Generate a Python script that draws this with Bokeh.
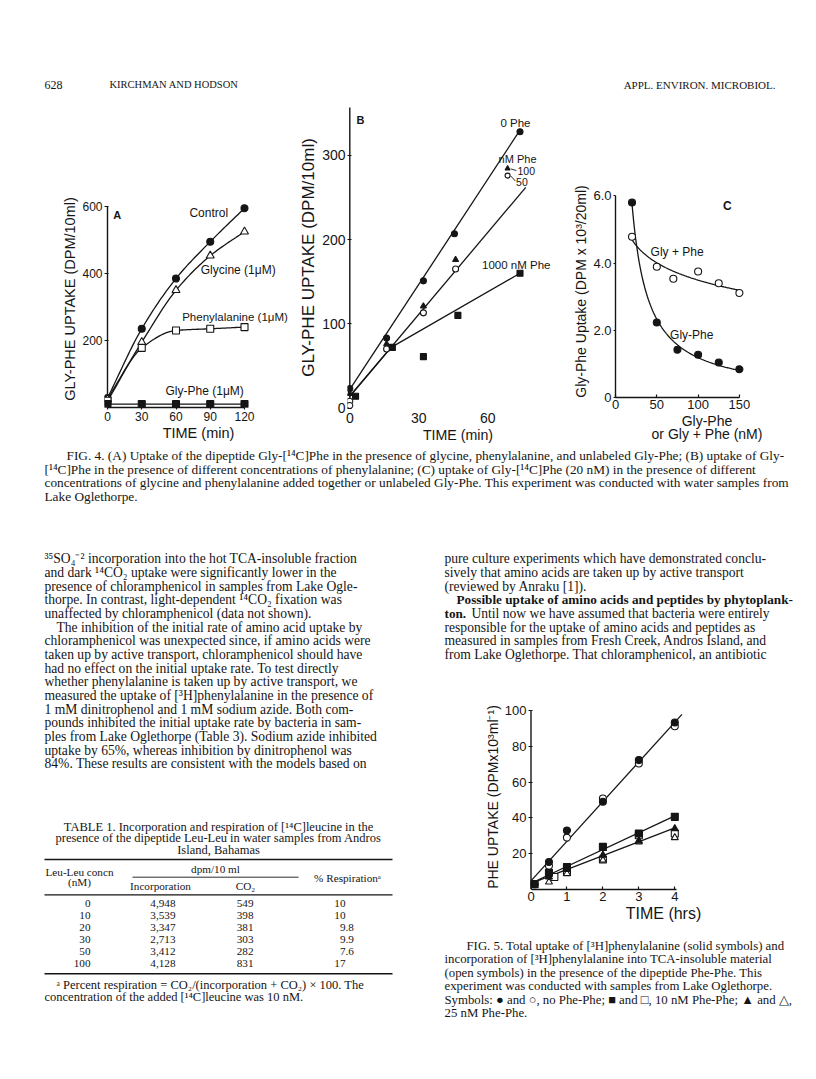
import glob
import numpy as np
from bokeh.plotting import figure
from bokeh.models import Range1d, FixedTicker
from bokeh.layouts import column, row
from bokeh.embed import file_html
from bokeh.resources import INLINE
from bokeh.core.properties import value

SANS = "Liberation Sans"
SERIF = "Liberation Serif"
INK = "#151515"

# ======================= DATA =======================
# Fig. 4A  Gly-[14C]Phe uptake (DPM/10 ml) vs time (min)
a_time = [0, 30, 60, 90, 120]
a_control = [28, 235, 385, 495, 595]
a_glycine = [25, 195, 350, 453, 525]
a_phenylalanine = [20, 178, 230, 235, 240]
a_glyphe = [10, 10, 10, 10, 10]

# Fig. 4B  uptake vs time at several Phe concentrations
b_time_0 = [0, 16, 32, 45.5, 74]
b_phe_0 = [23, 83, 151, 207, 328]
b_time_100 = [0, 16, 32, 46]
b_phe_100 = [17, 76, 121, 176]
b_time_50 = [0, 0, 16, 32, 46]
b_phe_50 = [8, 3, 70, 113, 165]
b_time_1000 = [2.5, 18.5, 32, 47, 74]
b_phe_1000 = [14, 72, 61, 110, 160]
# lines drawn by the authors in Fig. 4B
b_line_time_0 = [0, 74]
b_line_0 = [22, 330]
b_line_time_100_50 = [0, 76.5]
b_line_100_50 = [14, 262]
b_line_time_1000 = [0, 18, 74]
b_line_1000 = [14, 72, 160]

# Fig. 4C  uptake (DPM x 10^3 / 20 ml) vs concentration (nM)
c_conc_glyphe = [20, 50, 75, 100, 125, 150]
c_glyphe = [5.80, 2.23, 1.42, 1.27, 1.04, 0.84]
c_conc_glyplusphe = [20, 50, 70, 100, 125, 150]
c_glyplusphe = [4.78, 3.89, 3.53, 3.75, 3.40, 3.11]

# Fig. 5  Phe uptake (DPM x 10^3 / ml) vs time (h)
f5_time = [0.1, 0.5, 1, 2, 3, 4]
f5_solid_none = [3, 15.4, 33, 49, 72.3, 93.3]
f5_solid_10 = [3, 9.3, 12.6, 23.8, 31.3, 40.6]
f5_time_open = [0.5, 1, 2, 3, 4]
f5_open_none = [13.2, 29, 50.8, 70.4, 91.2]
f5_time_open_10 = [0.65, 1, 2, 3, 4]
f5_open_10 = [7, 9.8, 16.8, 30.3, 31.3]
f5_time_25 = [0.5, 1, 2, 3, 4]
f5_solid_25 = [7, 11.2, 19.2, 27.2, 34]
f5_open_25 = [4.2, 8.9, 16.4, 26.6, 29]

# Table 1
t1_leuleu_nM = [0, 10, 20, 30, 50, 100]
t1_incorporation = [4948, 3539, 3347, 2713, 3412, 4128]
t1_co2 = [549, 398, 381, 303, 282, 831]
t1_respiration = [10, 10, 9.8, 9.9, 7.6, 17]

# ======================= TEXT =======================
header_left = ["628", "KIRCHMAN AND HODSON"]
header_right = "APPL. ENVIRON. MICROBIOL."

fig4_caption = [
    "FIG. 4. (A) Uptake of the dipeptide Gly-[¹⁴C]Phe in the presence of glycine, phenylalanine, and unlabeled Gly-Phe; (B) uptake of Gly-",
    "[¹⁴C]Phe in the presence of different concentrations of phenylalanine; (C) uptake of Gly-[¹⁴C]Phe (20 nM) in the presence of different",
    "concentrations of glycine and phenylalanine added together or unlabeled Gly-Phe. This experiment was conducted with water samples from",
    "Lake Oglethorpe.",
]

left_text = [
    "³⁵SO₄⁻² incorporation into the hot TCA-insoluble fraction",
    "and dark ¹⁴CO₂ uptake were significantly lower in the",
    "presence of chloramphenicol in samples from Lake Ogle-",
    "thorpe. In contrast, light-dependent ¹⁴CO₂ fixation was",
    "unaffected by chloramphenicol (data not shown).",
    "The inhibition of the initial rate of amino acid uptake by",
    "chloramphenicol was unexpected since, if amino acids were",
    "taken up by active transport, chloramphenicol should have",
    "had no effect on the initial uptake rate. To test directly",
    "whether phenylalanine is taken up by active transport, we",
    "measured the uptake of [³H]phenylalanine in the presence of",
    "1 mM dinitrophenol and 1 mM sodium azide. Both com-",
    "pounds inhibited the initial uptake rate by bacteria in sam-",
    "ples from Lake Oglethorpe (Table 3). Sodium azide inhibited",
    "uptake by 65%, whereas inhibition by dinitrophenol was",
    "84%. These results are consistent with the models based on",
]
left_indent = [0, 0, 0, 0, 0, 1, 0, 0, 0, 0, 0, 0, 0, 0, 0, 0]

right_text = [
    "pure culture experiments which have demonstrated conclu-",
    "sively that amino acids are taken up by active transport",
    "(reviewed by Anraku [1]).",
    None,
    None,
    "responsible for the uptake of amino acids and peptides as",
    "measured in samples from Fresh Creek, Andros Island, and",
    "from Lake Oglethorpe. That chloramphenicol, an antibiotic",
]
right_bold_1 = "Possible uptake of amino acids and peptides by phytoplank-"
right_bold_2 = "ton."
right_rest_2 = "Until now we have assumed that bacteria were entirely"

table_title = [
    "TABLE 1. Incorporation and respiration of [¹⁴C]leucine in the",
    "presence of the dipeptide Leu-Leu in water samples from Andros",
    "Island, Bahamas",
]
table_foot = [
    "ᵃ Percent respiration = CO₂/(incorporation + CO₂) × 100. The",
    "concentration of the added [¹⁴C]leucine was 10 nM.",
]

fig5_caption = [
    "FIG. 5. Total uptake of [³H]phenylalanine (solid symbols) and",
    "incorporation of [³H]phenylalanine into TCA-insoluble material",
    "(open symbols) in the presence of the dipeptide Phe-Phe. This",
    "experiment was conducted with samples from Lake Oglethorpe.",
    "Symbols: ● and ○, no Phe-Phe; ■ and □, 10 nM Phe-Phe; ▲ and △,",
    "25 nM Phe-Phe.",
]

# ======================= LAYOUT CONSTANTS (page px) =======================
L0, L1 = 44, 392      # left text column
R0, R1 = 444, 793     # right text column
BODY_PX = 13.6
LINE_DY = 13.67
W, H = 800, 1063


def _font_path(bold):
    name = "LiberationSerif-Bold.ttf" if bold else "LiberationSerif-Regular.ttf"
    for pat in ("/usr/share/fonts/**/" + name, "/usr/local/share/fonts/**/" + name):
        hits = glob.glob(pat, recursive=True)
        if hits:
            return hits[0]
    return None


def text_width(s, px, bold=False):
    try:
        from PIL import ImageFont
        f = ImageFont.truetype(_font_path(bold), 100)
        return f.getlength(s) * px / 100.0
    except Exception:
        return 0.47 * px * len(s)


def no_align(p):
    try:
        p.frame_align = False
    except Exception:
        pass
    return p


def page_fig(x0, y0, x1, y1):
    p = figure(width=x1 - x0, height=y1 - y0,
               x_range=Range1d(x0, x1), y_range=Range1d(y1, y0),
               x_axis_type=None, y_axis_type=None,
               toolbar_location=None, output_backend="svg",
               min_border=0, outline_line_color=None)
    return no_align(p)


def put(p, xs, ys, texts, px, font=SERIF, align="left", style="normal", baseline="middle"):
    p.text(x=list(xs), y=list(ys), text=list(texts), text_font=value(font),
           text_font_size=f"{px}px", text_align=align, text_baseline=baseline,
           text_font_style=style, text_color=INK)


def make_chart(box, frame, x_map, y_map):
    bx0, by0, bx1, by1 = box
    fl, ft, fr, fb = frame
    p = figure(width=bx1 - bx0, height=by1 - by0,
               x_range=Range1d((fl - x_map[0]) / x_map[1], (fr - x_map[0]) / x_map[1]),
               y_range=Range1d((y_map[0] - fb) / y_map[1], (y_map[0] - ft) / y_map[1]),
               toolbar_location=None, output_backend="svg",
               min_border_left=fl - bx0, min_border_right=bx1 - fr,
               min_border_top=ft - by0, min_border_bottom=by1 - fb)
    p.outline_line_color = None
    p.xgrid.visible = False
    p.ygrid.visible = False
    return no_align(p)


def style_axis(ax, ticks, tick_px, label, label_px, tick_in=0, tick_out=3, line=True,
               overrides=None, bounds=None):
    ax.ticker = FixedTicker(ticks=ticks)
    ax.minor_tick_line_color = None
    ax.major_tick_in = tick_in
    ax.major_tick_out = tick_out
    ax.major_tick_line_color = INK if (tick_in or tick_out) else None
    ax.major_tick_line_width = 1.2
    ax.axis_line_color = INK if line else None
    ax.axis_line_width = 1.4
    ax.major_label_text_font = SANS
    ax.major_label_text_font_size = f"{tick_px}px"
    ax.major_label_text_color = INK
    ax.major_label_standoff = 2
    ax.axis_label = label
    ax.axis_label_text_font = SANS
    ax.axis_label_text_font_size = f"{label_px}px"
    ax.axis_label_text_font_style = "normal"
    ax.axis_label_text_color = INK
    ax.axis_label_standoff = 1
    if overrides:
        ax.major_label_overrides = overrides
    if bounds:
        ax.bounds = bounds


def axis_line_at_zero(p, y0, y1):
    # vertical axis line drawn exactly at x = 0 so markers at t = 0 sit on it
    p.segment(x0=[0], y0=[y0], x1=[0], y1=[y1], line_color=INK, line_width=1.4)


def pchip(xs, ys, n=80):
    x = np.asarray(xs, float)
    y = np.asarray(ys, float)
    h = np.diff(x)
    d = np.diff(y) / h
    m = np.zeros_like(y)
    m[0], m[-1] = d[0], d[-1]
    for i in range(1, len(x) - 1):
        if d[i - 1] * d[i] <= 0:
            m[i] = 0.0
        else:
            w1, w2 = 2 * h[i] + h[i - 1], h[i] + 2 * h[i - 1]
            m[i] = (w1 + w2) / (w1 / d[i - 1] + w2 / d[i])
    xx = np.linspace(x[0], x[-1], n)
    k = np.clip(np.searchsorted(x, xx) - 1, 0, len(x) - 2)
    t = (xx - x[k]) / h[k]
    yy = ((2 * t**3 - 3 * t**2 + 1) * y[k] + (t**3 - 2 * t**2 + t) * h[k] * m[k]
          + (-2 * t**3 + 3 * t**2) * y[k + 1] + (t**3 - t**2) * h[k] * m[k + 1])
    return xx, yy


def lsq_curve(xs, ys, basis, x_new):
    x = np.asarray(xs, float)
    A = np.column_stack([np.ones_like(x), basis(x)])
    coef, *_ = np.linalg.lstsq(A, np.asarray(ys, float), rcond=None)
    return coef[0] + coef[1] * basis(x_new)


def pts(p, x, y, marker, filled, size=7):
    p.scatter(x, y, marker=marker, size=size, line_color=INK, line_width=1.1,
              fill_color=INK if filled else "white")


# ======================= HEADER =======================
ph = page_fig(0, 0, W, 96)
put(ph, [L0], [84], [header_left[0]], 12)
put(ph, [L0 + 65], [84], [header_left[1]], 10.5)
put(ph, [775], [84], [header_right], 11, align="right")

# ======================= FIG 4A =======================
pA = make_chart((0, 96, 294, 449), (104, 190, 292, 407), (107, 137 / 120), (407, 201 / 600))
style_axis(pA.xaxis[0], [0, 30, 60, 90, 120], 12, "TIME (min)", 14.5, tick_out=2, bounds=(0, 120))
style_axis(pA.yaxis[0], [200, 400, 600], 12, "GLY-PHE UPTAKE (DPM/10ml)", 14.5,
           tick_in=4, tick_out=0, line=False, bounds=(0, 600))
axis_line_at_zero(pA, 0, 600)
for ser in (a_control, a_glycine, a_phenylalanine):
    xx, yy = pchip(a_time, ser)
    pA.line(xx, yy, line_color=INK, line_width=1.3)
pA.line(a_time, a_glyphe, line_color=INK, line_width=1.3)
pts(pA, a_time, a_control, "circle", True)
pts(pA, a_time, a_glycine, "triangle", False, 8)
pts(pA, a_time, a_phenylalanine, "square", False)
pts(pA, a_time, a_glyphe, "square", True)
put(pA, [8.5], [576], ["A"], 11, font=SANS, align="center", style="bold")
put(pA, [88.7, 114.5], [581, 411], ["Control", "Glycine (1μM)"], 12, font=SANS, align="center")
put(pA, [65.4], [271.6], ["Phenylalanine (1μM)"], 11.5, font=SANS)
put(pA, [85.1], [47.8], ["Gly-Phe (1μM)"], 12, font=SANS, align="center")

# ======================= FIG 4B =======================
pB = make_chart((294, 96, 570, 449), (347, 104, 568, 410), (349.3, 2.3), (407.5, 0.842))
style_axis(pB.xaxis[0], [0, 30, 60], 14, "TIME (min)", 14.2, tick_out=0, line=False, bounds=(0, 76))
style_axis(pB.yaxis[0], [0, 100, 200, 300], 14, "GLY-PHE UPTAKE (DPM/10ml)", 17,
           tick_in=4, tick_out=0, line=False, bounds=(0, 357))
axis_line_at_zero(pB, 0, 357)
pB.line(b_line_time_0, b_line_0, line_color=INK, line_width=1.3)
pB.line(b_line_time_100_50, b_line_100_50, line_color=INK, line_width=1.3)
pB.line(b_line_time_1000, b_line_1000, line_color=INK, line_width=1.3)
pts(pB, b_time_0, b_phe_0, "circle", True, 6)
pts(pB, b_time_100, b_phe_100, "triangle", True, 6)
pts(pB, b_time_50, b_phe_50, "circle", False, 6)
pts(pB, b_time_1000, b_phe_1000, "square", True, 6)
put(pB, [4.6], [342.3], ["B"], 11, font=SANS, style="bold", align="center")
put(pB, [65.5], [339], ["0 Phe"], 11.5, font=SANS)
put(pB, [64.7], [296.3], ["nM Phe"], 11, font=SANS)
pts(pB, [68.6], [284.4], "triangle", True, 5)
pts(pB, [68.6], [276.0], "circle", False, 5)
pB.segment(x0=[70.0, 70.0], y0=[284.0, 275.5], x1=[72.4, 72.0], y1=[282.0, 269.5],
           line_color=INK, line_width=0.9)
put(pB, [72.9, 72.3], [282.0, 269.0], ["100", "50"], 10.5, font=SANS)
put(pB, [57.5], [170.4], ["1000 nM Phe"], 11.5, font=SANS)

# ======================= FIG 4C =======================
pC = make_chart((570, 96, W, 449), (610, 185, 798, 397), (610, 0.8487), (397, 33.62))
style_axis(pC.xaxis[0], [0, 50, 100, 150], 13, "Gly-Phe\nor Gly + Phe (nM)", 14,
           tick_in=3, tick_out=0, bounds=(0, 150))
pC.xaxis[0].axis_label_text_line_height = 0.85
style_axis(pC.yaxis[0], [0, 2, 4, 6], 13, "Gly-Phe Uptake (DPM x 10³/20ml)", 14,
           tick_out=2, bounds=(0, 6), overrides={0: "0", 2: "2.0", 4: "4.0", 6: "6.0"})
xc = np.linspace(min(c_conc_glyphe), max(c_conc_glyphe), 120)
pC.line(xc, lsq_curve(c_conc_glyphe, c_glyphe, lambda v: 1.0 / v, xc), line_color=INK, line_width=1.3)
xc2 = np.linspace(min(c_conc_glyplusphe), max(c_conc_glyplusphe), 120)
pC.line(xc2, lsq_curve(c_conc_glyplusphe, c_glyplusphe, np.log, xc2), line_color=INK, line_width=1.3)
pts(pC, c_conc_glyphe, c_glyphe, "circle", True)
pts(pC, c_conc_glyplusphe, c_glyplusphe, "circle", False)
put(pC, [135.5], [5.71], ["C"], 12, font=SANS, style="bold", align="center")
put(pC, [74.6], [4.32], ["Gly + Phe"], 12, font=SANS, align="center")
put(pC, [92.3], [1.87], ["Gly-Phe"], 12, font=SANS, align="center")

# ======================= CAPTION FIG 4 =======================
pcap = page_fig(0, 449, W, 540)
cap_y = [455 + 13.5 * i for i in range(len(fig4_caption))]
cap_x = [L0 + 22] + [L0] * (len(fig4_caption) - 1)
put(pcap, cap_x, cap_y, fig4_caption, 13.3)

# ======================= LEFT COLUMN (text + Table 1) =======================
pl = page_fig(0, 540, 408, H)
ly = [558.3 + LINE_DY * i for i in range(len(left_text))]
lx = [L0 + 12 * ind for ind in left_indent]
put(pl, lx, ly, left_text, BODY_PX)

TTL = 12.5   # table title / footnote
TPX = 11.2   # table body
put(pl, [(L0 + L1) / 2] * 3, [826, 837.7, 849.3], table_title, TTL, align="center")
pl.segment(x0=[L0, 132, L0, L0], y0=[859, 876.7, 894.3, 973.3],
           x1=[L1, 298, L1, L1], y1=[859, 876.7, 894.3, 973.3],
           line_color=INK, line_width=[1.4, 0.9, 1.2, 1.4])
put(pl, [79, 79], [871.7, 881.7], ["Leu-Leu concn", "(nM)"], TPX, align="center")
put(pl, [215], [868.7], ["dpm/10 ml"], TPX, align="center")
put(pl, [160, 245], [885, 885], ["Incorporation", "CO₂"], TPX, align="center")
put(pl, [347], [877], ["% Respirationᵃ"], TPX, align="center")
row_y = [902.7 + 12 * i for i in range(len(t1_leuleu_nM))]
put(pl, [90] * len(row_y), row_y, [str(v) for v in t1_leuleu_nM], TPX, align="right")
put(pl, [175] * len(row_y), row_y, [f"{v:,}" for v in t1_incorporation], TPX, align="right")
put(pl, [253] * len(row_y), row_y, [str(v) for v in t1_co2], TPX, align="right")
resp_txt, resp_x = [], []
for v in t1_respiration:
    if float(v).is_integer():
        s = str(int(v))
        resp_x.append(345)
    else:
        s = f"{v:.1f}"
        resp_x.append(345 + text_width(s[s.index('.'):], TPX))
    resp_txt.append(s)
put(pl, resp_x, row_y, resp_txt, TPX, align="right")
put(pl, [L0 + 12, L0], [984, 996.7], table_foot, TTL)

# ======================= RIGHT COLUMN =======================
pr = page_fig(408, 540, W, 700)
ry = [558.3 + LINE_DY * i for i in range(len(right_text))]
rlines = [(t, y) for t, y in zip(right_text, ry) if t is not None]
put(pr, [R0] * len(rlines), [y for _, y in rlines], [t for t, _ in rlines], BODY_PX)
BOLD_PX = 13.2
put(pr, [R0 + 12, R0], [ry[3], ry[4]], [right_bold_1, right_bold_2], BOLD_PX, style="bold")
put(pr, [R0 + text_width(right_bold_2 + " ", BOLD_PX, bold=True) + 2], [ry[4]], [right_rest_2], BODY_PX)

# ======================= FIG 5 =======================
p5 = make_chart((408, 700, W, 935), (528, 704, 798, 889), (530.5, 35.95), (889, 1.79))
style_axis(p5.xaxis[0], [0, 1, 2, 3, 4], 13, "TIME (hrs)", 16, tick_in=3, tick_out=0, bounds=(0, 4.05))
style_axis(p5.yaxis[0], [20, 40, 60, 80, 100], 13, "PHE UPTAKE (DPMx10³ml⁻¹)", 14,
           tick_in=4, tick_out=0, line=False, bounds=(0, 100))
axis_line_at_zero(p5, 0, 100)
sl_x = np.array(f5_time + f5_time_open, float)
sl_y = np.array(f5_solid_none + f5_open_none, float)
c1 = np.polyfit(sl_x, sl_y, 1)
x_end = np.array([0.0, 4.2])
p5.line(x_end, np.polyval(c1, x_end), line_color=INK, line_width=1.3)
c2 = np.polyfit(f5_time, f5_solid_10, 1)
x_end2 = np.array([0.0, 4.0])
p5.line(x_end2, np.polyval(c2, x_end2), line_color=INK, line_width=1.3)
c3 = np.polyfit(f5_time_25, f5_solid_25, 1)
p5.line(x_end2, np.polyval(c3, x_end2), line_color=INK, line_width=1.3)
pts(p5, f5_time_open, f5_open_none, "circle", False)
pts(p5, f5_time, f5_solid_none, "circle", True)
pts(p5, f5_time_open_10, f5_open_10, "square", False)
pts(p5, f5_time, f5_solid_10, "square", True)
pts(p5, f5_time_25, f5_open_25, "triangle", False)
pts(p5, f5_time_25, f5_solid_25, "triangle", True)

# ======================= CAPTION FIG 5 =======================
pc5 = page_fig(408, 935, W, H)
c5y = [945 + 13.5 * i for i in range(len(fig5_caption))]
c5x = [R0 + 22] + [R0] * (len(fig5_caption) - 1)
put(pc5, c5x, c5y, fig5_caption, 12.8)

layout = column(
    ph,
    row(pA, pB, pC),
    pcap,
    row(pl, column(pr, p5, pc5)),
)

open("out.html", "w").write(file_html(layout, INLINE))
